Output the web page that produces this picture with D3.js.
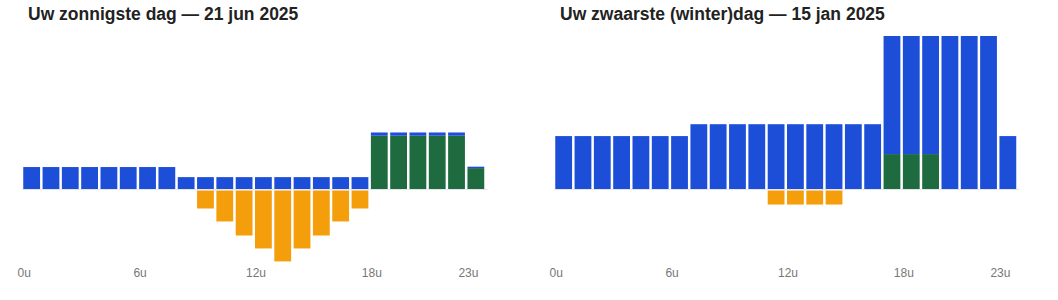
<!DOCTYPE html>
<html>
<head>
<meta charset="utf-8">
<script src="https://d3js.org/d3.v7.min.js"></script>
<style>
body { margin: 0; background: #fff; font-family: "Liberation Sans", Arial, sans-serif; }
.title { font-size: 17.5px; font-weight: bold; fill: #222; }
.tick-label { font-size: 12px; fill: #777; }
</style>
</head>
<body>
<svg id="chart" width="1058" height="300"></svg>
<script>
// hours 0..23, values in kWh per hour
var hours = d3.range(24);
var tickHours = [0, 6, 12, 18, 23];

// zonnigste dag
var sunTitle = "Uw zonnigste dag \u2014 21 jun 2025";
var sunGrid    = [0.61,0.61,0.61,0.61,0.61,0.61,0.61,0.61,0.33,0.33,0.33,0.33,0.33,0.33,0.33,0.33,0.33,0.33,0.09,0.09,0.09,0.09,0.09,0.04];
var sunBattery = [0,0,0,0,0,0,0,0,0,0,0,0,0,0,0,0,0,0,1.48,1.48,1.48,1.48,1.48,0.58];
var sunExport  = [0,0,0,0,0,0,0,0,0,0.5,0.86,1.25,1.61,1.97,1.61,1.25,0.86,0.5,0,0,0,0,0,0];

// zwaarste dag
var winTitle = "Uw zwaarste (winter)dag \u2014 15 jan 2025";
var winGrid    = [1.47,1.47,1.47,1.47,1.47,1.47,1.47,1.8,1.8,1.8,1.8,1.8,1.8,1.8,1.8,1.8,1.8,3.28,3.28,3.28,4.25,4.25,4.25,1.47];
var winBattery = [0,0,0,0,0,0,0,0,0,0,0,0,0,0,0,0,0,0.97,0.97,0.97,0,0,0,0];
var winExport  = [0,0,0,0,0,0,0,0,0,0,0,0.39,0.39,0.39,0.39,0,0,0,0,0,0,0,0,0];

var colGrid = "#1d4ed8", colBattery = "#1e6b40", colExport = "#f59e0b";

var svg = d3.select("#chart");

var y = d3.scaleLinear().domain([-2.5, 4.25]).range([279, 36]);

function drawPanel(x0, title, grid, battery, exp) {
  var g = svg.append("g").attr("transform", "translate(" + x0 + ",0)");

  var x = d3.scaleBand().domain(hours).range([22, 485.5]).paddingInner(0.13).paddingOuter(0.065);

  g.append("text").attr("class", "title").attr("x", 28).attr("y", 20).text(title);

  // zero line
  g.append("line")
    .attr("x1", 22).attr("x2", 487.5)
    .attr("y1", y(0) + 0.5).attr("y2", y(0) + 0.5)
    .attr("stroke", "#e3e5ea").attr("stroke-width", 1.2);

  // battery (bottom of stack)
  g.selectAll(".bat").data(hours.filter(function(h){ return battery[h] > 0; }))
    .enter().append("rect")
    .attr("x", function(h){ return x(h); })
    .attr("width", x.bandwidth())
    .attr("y", function(h){ return y(battery[h]); })
    .attr("height", function(h){ return y(0) - y(battery[h]); })
    .attr("fill", colBattery);

  // grid import on top
  g.selectAll(".grid").data(hours.filter(function(h){ return grid[h] > 0; }))
    .enter().append("rect")
    .attr("x", function(h){ return x(h); })
    .attr("width", x.bandwidth())
    .attr("y", function(h){ return y(battery[h] + grid[h]); })
    .attr("height", function(h){ return y(battery[h]) - y(battery[h] + grid[h]); })
    .attr("fill", colGrid);

  // export below zero
  g.selectAll(".exp").data(hours.filter(function(h){ return exp[h] > 0; }))
    .enter().append("rect")
    .attr("x", function(h){ return x(h); })
    .attr("width", x.bandwidth())
    .attr("y", y(0) + 1.5)
    .attr("height", function(h){ return y(-exp[h]) - y(0); })
    .attr("fill", colExport);

  g.selectAll(".tick-label").data(tickHours)
    .enter().append("text")
    .attr("class", "tick-label")
    .attr("x", function(h){ return x(h) + 1; })
    .attr("y", 277)
    .attr("text-anchor", "middle")
    .text(function(h){ return h + "u"; });
}

drawPanel(0, sunTitle, sunGrid, sunBattery, sunExport);
drawPanel(532, winTitle, winGrid, winBattery, winExport);
</script>
</body>
</html>
